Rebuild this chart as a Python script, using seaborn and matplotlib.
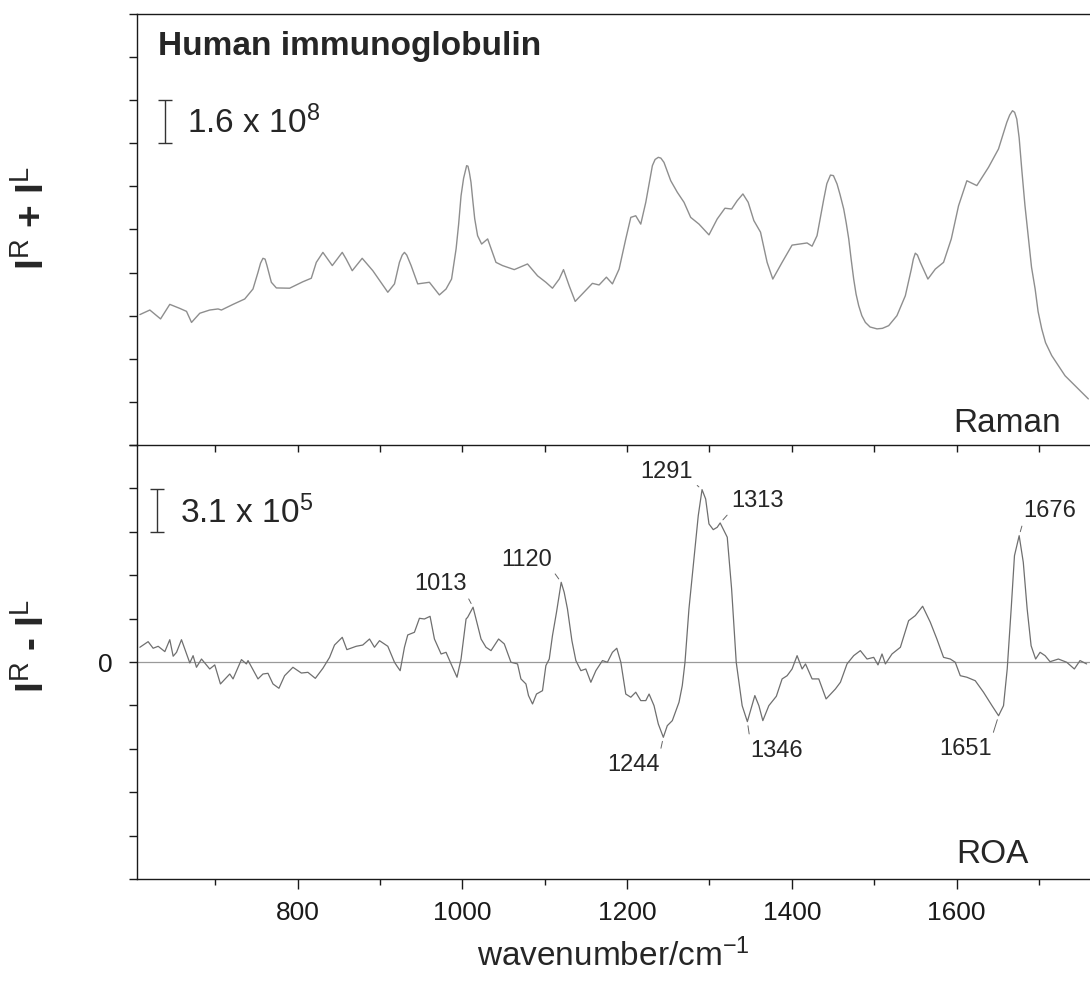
import numpy as np
import pandas as pd
import matplotlib
matplotlib.use("Agg")
import matplotlib.pyplot as plt
from matplotlib.ticker import MultipleLocator, FixedLocator, FuncFormatter
import seaborn as sns

# ---------------------------------------------------------------- data
# Raman spectrum, I^R + I^L  (intensity in units of 1e8)
raman_wn = [608.5, 620.6, 633.6, 644.8, 657.0, 665.1, 671.2, 681.2, 693.3, 703.4,
            707.5, 721.6, 735.8, 745.8, 751.9, 755.0, 757.9, 760.5, 762.8, 768.1,
            774.2, 790.3, 806.4, 816.6, 822.7, 830.7, 842.1, 854.2, 859.0, 866.3,
            878.4, 891.3, 909.5, 917.6, 923.6, 927.0, 929.7, 932.5, 937.8, 945.8,
            960.0, 972.1, 980.2, 986.9, 992.4, 995.5, 998.4, 1001.5, 1005.2, 1006.8,
            1008.5, 1010.5, 1012.5, 1015.0, 1018.5, 1023.4, 1030.7, 1040.8, 1048.8, 1063.0,
            1079.1, 1091.3, 1101.4, 1109.4, 1117.6, 1122.8, 1129.7, 1137.0, 1145.8, 1157.9,
            1166.0, 1174.9, 1182.2, 1190.3, 1198.4, 1204.5, 1210.5, 1216.6, 1222.7, 1230.7,
            1234.0, 1237.9, 1241.0, 1244.8, 1253.0, 1261.0, 1269.1, 1277.2, 1287.3, 1299.4,
            1309.4, 1318.8, 1326.9, 1333.7, 1340.6, 1347.0, 1353.9, 1362.0, 1370.0, 1376.9,
            1388.2, 1400.3, 1418.5, 1424.6, 1430.6, 1438.8, 1442.5, 1446.9, 1450.5, 1454.9,
            1458.5, 1463.0, 1466.0, 1469.1, 1472.0, 1475.1, 1478.0, 1481.2, 1485.0, 1489.3,
            1495.0, 1503.4, 1510.0, 1517.6, 1527.6, 1537.8, 1545.1, 1547.5, 1549.9, 1552.5,
            1556.0, 1565.2, 1574.2, 1584.2, 1593.6, 1602.4, 1612.5, 1624.6, 1638.8, 1650.9,
            1661.0, 1664.5, 1667.9, 1670.5, 1673.1, 1676.0, 1679.1, 1683.0, 1687.3, 1691.0,
            1695.4, 1699.0, 1703.4, 1708.0, 1715.5, 1731.7, 1747.9, 1760.0]
raman_int = [4.84, 5.01, 4.68, 5.22, 5.07, 4.96, 4.55, 4.89, 5.01, 5.05,
             5.01, 5.22, 5.42, 5.79, 6.41, 6.75, 6.93, 6.90, 6.66, 6.04,
             5.83, 5.82, 6.06, 6.19, 6.78, 7.15, 6.66, 7.15, 6.90, 6.47,
             6.93, 6.47, 5.67, 5.98, 6.78, 7.05, 7.15, 7.05, 6.66, 5.98,
             6.04, 5.57, 5.79, 6.16, 7.28, 8.20, 9.25, 9.90, 10.37, 10.35,
             10.12, 9.75, 9.13, 8.40, 7.77, 7.46, 7.65, 6.78, 6.66, 6.51,
             6.72, 6.28, 6.04, 5.82, 6.16, 6.51, 5.91, 5.33, 5.61, 6.00,
             5.94, 6.23, 5.98, 6.53, 7.65, 8.45, 8.51, 8.20, 9.01, 10.37,
             10.60, 10.68, 10.65, 10.49, 9.81, 9.38, 9.01, 8.45, 8.20, 7.80,
             8.39, 8.79, 8.76, 9.07, 9.32, 9.01, 8.33, 7.90, 6.78, 6.16,
             6.78, 7.42, 7.50, 7.38, 7.77, 9.13, 9.70, 10.02, 10.00, 9.69,
             9.30, 8.76, 8.25, 7.65, 6.90, 6.16, 5.60, 5.17, 4.80, 4.55,
             4.38, 4.31, 4.33, 4.43, 4.80, 5.54, 6.53, 6.90, 7.12, 7.05,
             6.78, 6.16, 6.53, 6.78, 7.65, 8.88, 9.81, 9.63, 10.31, 10.99,
             11.98, 12.25, 12.41, 12.35, 12.10, 11.40, 10.25, 8.90, 7.65, 6.60,
             5.79, 4.95, 4.31, 3.80, 3.32, 2.57, 2.08, 1.71]

# ROA spectrum, I^R - I^L  (intensity in units of 1e5)
roa_wn = [608.5, 618.5, 624.6, 630.7, 638.8, 644.8, 648.9, 653.0, 659.0, 663.0,
          669.1, 673.1, 677.2, 683.3, 693.3, 699.4, 706.3, 717.6, 721.6, 731.8,
          737.8, 739.8, 751.9, 757.9, 764.0, 770.1, 777.3, 784.2, 794.3, 804.5,
          812.5, 821.5, 830.7, 838.8, 844.8, 854.2, 859.8, 871.1, 879.1, 887.3,
          893.3, 899.4, 909.5, 917.6, 920.8, 924.5, 929.7, 933.7, 941.8, 947.9,
          953.9, 960.8, 966.1, 974.2, 980.2, 986.3, 993.5, 998.4, 1004.5, 1006.4,
          1013.0, 1016.6, 1022.7, 1028.7, 1034.8, 1044.0, 1050.9, 1059.0, 1067.0, 1071.1,
          1077.2, 1080.3, 1085.2, 1090.0, 1097.3, 1101.4, 1105.5, 1109.4, 1114.3, 1120.0,
          1123.6, 1127.6, 1133.0, 1137.8, 1143.9, 1149.9, 1156.0, 1162.1, 1170.1, 1176.1,
          1182.2, 1187.5, 1192.4, 1198.4, 1204.5, 1210.5, 1216.6, 1222.7, 1226.7, 1232.7,
          1237.9, 1244.0, 1248.8, 1254.9, 1263.0, 1267.0, 1270.3, 1275.1, 1281.2, 1286.4,
          1291.0, 1295.4, 1299.4, 1304.6, 1309.4, 1313.0, 1321.6, 1326.9, 1332.5, 1339.7,
          1346.0, 1355.1, 1360.0, 1364.8, 1372.1, 1381.2, 1388.2, 1394.3, 1400.3, 1406.4,
          1412.5, 1416.6, 1424.6, 1432.7, 1441.6, 1452.9, 1459.0, 1467.0, 1475.1, 1483.2,
          1491.3, 1499.4, 1504.6, 1509.5, 1513.6, 1521.6, 1531.8, 1541.8, 1549.9, 1558.8,
          1568.1, 1576.1, 1584.2, 1592.4, 1598.4, 1604.5, 1612.5, 1622.7, 1632.7, 1643.0,
          1651.0, 1657.0, 1661.5, 1666.3, 1670.3, 1676.0, 1681.0, 1685.7, 1690.5, 1696.0,
          1701.4, 1707.5, 1713.5, 1723.6, 1733.7, 1743.0, 1749.9, 1757.9]
roa_int = [1.05, 1.45, 0.98, 1.12, 0.74, 1.59, 0.41, 0.69, 1.59, 0.93,
           -0.07, 0.45, -0.38, 0.21, -0.50, -0.21, -1.57, -0.86, -1.21, 0.17,
           -0.14, 0.10, -1.21, -0.86, -0.81, -1.57, -1.88, -0.98, -0.38, -0.79,
           -0.74, -1.17, -0.45, 0.33, 1.21, 1.76, 0.88, 1.12, 1.21, 1.64,
           1.05, 1.52, 1.12, -0.02, -0.31, -0.62, 1.05, 1.93, 2.12, 3.12,
           3.07, 3.26, 1.64, 0.57, 0.69, -0.14, -1.09, 0.21, 3.07, 3.19,
           3.91, 3.07, 1.64, 1.05, 0.81, 1.64, 1.29, -0.02, -0.14, -1.21,
           -1.57, -2.40, -3.00, -2.29, -2.05, -0.26, 0.21, 1.88, 3.55, 5.69,
           4.98, 3.79, 1.52, 0.10, -0.62, -0.50, -1.45, -0.62, 0.10, -0.02,
           0.69, 0.98, -0.02, -2.29, -2.52, -2.16, -2.76, -2.76, -2.29, -3.12,
           -4.43, -5.38, -4.55, -4.19, -2.88, -1.69, -0.02, 3.79, 7.36, 10.45,
           12.31, 11.64, 9.86, 9.45, 9.62, 9.93, 8.91, 5.21, -0.02, -3.12,
           -4.26, -2.40, -3.12, -4.19, -3.12, -2.45, -1.21, -0.98, -0.50, 0.45,
           -0.50, -0.14, -1.21, -1.21, -2.64, -1.93, -1.45, -0.14, 0.45, 0.81,
           0.21, 0.33, -0.21, 0.57, -0.14, 0.57, 1.05, 2.95, 3.31, 3.98,
           2.84, 1.64, 0.33, 0.21, -0.02, -0.98, -1.09, -1.34, -2.16, -3.12,
           -3.84, -3.12, -0.50, 3.79, 7.59, 9.02, 7.12, 3.79, 1.16, 0.21,
           0.69, 0.45, 0.02, 0.21, -0.02, -0.50, 0.10, -0.14]

# labelled ROA bands
peak_wn = [1013, 1120, 1244, 1291, 1313, 1346, 1651, 1676]

# intensity scale bars
raman_scale, raman_exp = 1.6, 8   # 1.6 x 10^8
roa_scale, roa_exp = 3.1, 5       # 3.1 x 10^5

x_ticks = [800, 1000, 1200, 1400, 1600]

# ---------------------------------------------------------------- style
sns.set_style("ticks")
plt.rcParams.update({
    "font.family": ["Liberation Sans", "DejaVu Sans"],
    "mathtext.fontset": "custom",
    "mathtext.rm": "Liberation Sans",
    "mathtext.it": "Liberation Sans:italic",
    "mathtext.bf": "Liberation Sans:bold",
    "axes.edgecolor": "#1a1a1a",
    "axes.linewidth": 1.0,
    "xtick.color": "#1a1a1a",
    "ytick.color": "#1a1a1a",
})

raman_df = pd.DataFrame({"wavenumber": raman_wn, "intensity": raman_int})
roa_df = pd.DataFrame({"wavenumber": roa_wn, "intensity": roa_int})

fig = plt.figure(figsize=(10.9, 9.95), dpi=100)
left = 137 / 1090
ax2 = fig.add_axes([left, 0.1156, 1 - left, 0.4362])
ax1 = fig.add_axes([left, 0.5518, 1 - left, 0.4331])
ax1.patch.set_visible(False)
ax2.patch.set_visible(False)

xlim = (605, 1762)

# ---------------------------------------------------------------- Raman panel
sns.lineplot(data=raman_df, x="wavenumber", y="intensity", ax=ax1,
             color="#8e8e8e", linewidth=1.0, estimator=None, sort=False)
ax1.set_xlim(*xlim)
ax1.set_ylim(0, 10 * raman_scale)
ax1.yaxis.set_major_locator(FixedLocator(np.arange(0, 10.5) * raman_scale))
ax1.yaxis.set_major_formatter(FuncFormatter(lambda v, p: ""))
ax1.xaxis.set_major_locator(FixedLocator(x_ticks))
ax1.xaxis.set_minor_locator(MultipleLocator(100))
ax1.tick_params(axis="x", which="both", direction="out", length=5, width=1,
                labelbottom=False)
ax1.tick_params(axis="y", direction="out", length=5.5, width=1)
ax1.spines["right"].set_visible(False)
ax1.set_xlabel("")
ax1.set_ylabel("")

ax1.text(0.022, 0.907, "Human immunoglobulin", transform=ax1.transAxes,
         fontsize=24, fontweight="bold", ha="left", va="baseline")
ax1.errorbar(639.3, 11.2 + raman_scale / 2, yerr=raman_scale / 2, fmt="none",
             ecolor="#333333", elinewidth=1.0, capsize=5, capthick=1.0)
ax1.text(0.0525, 0.726, f"{raman_scale} x 10$^{{{raman_exp}}}$",
         transform=ax1.transAxes, fontsize=24, ha="left", va="baseline")
ax1.text(0.856, 0.033, "Raman", transform=ax1.transAxes, fontsize=24,
         ha="left", va="baseline")

# ---------------------------------------------------------------- ROA panel
ax2.axhline(0, color="#9a9a9a", linewidth=0.9, zorder=1)
sns.lineplot(data=roa_df, x="wavenumber", y="intensity", ax=ax2,
             color="#6f6f6f", linewidth=0.9, estimator=None, sort=False)
ax2.set_xlim(*xlim)
ax2.set_ylim(-5 * roa_scale, 5 * roa_scale)
ax2.yaxis.set_major_locator(FixedLocator(np.arange(-5, 5.5) * roa_scale))
ax2.yaxis.set_major_formatter(
    FuncFormatter(lambda v, p: "0" if abs(v) < 1e-9 else ""))
ax2.xaxis.set_major_locator(FixedLocator(x_ticks))
ax2.xaxis.set_minor_locator(MultipleLocator(100))
ax2.tick_params(axis="x", which="major", direction="out", length=7, width=1,
                labelsize=19, pad=8)
ax2.tick_params(axis="x", which="minor", direction="out", length=4, width=1)
ax2.tick_params(axis="y", direction="out", length=5.5, width=1,
                labelsize=19, pad=12)
ax2.spines["right"].set_visible(False)
ax2.spines["top"].set_visible(False)
ax2.set_ylabel("")
ax2.set_xlabel("wavenumber/cm$^{-1}$", fontsize=24, labelpad=10)

ax2.errorbar(628.8, 9.29 + roa_scale / 2, yerr=roa_scale / 2, fmt="none",
             ecolor="#333333", elinewidth=1.0, capsize=5, capthick=1.0)
ax2.text(0.045, 0.8226, f"{roa_scale} x 10$^{{{roa_exp}}}$",
         transform=ax2.transAxes, fontsize=24, ha="left", va="baseline")
ax2.text(0.860, 0.039, "ROA", transform=ax2.transAxes, fontsize=24,
         ha="left", va="baseline")

# band labels: offset of the text from the band (wavenumber, intensity)
# and the corner of the text box the leader line leaves from
label_layout = {
    1013: ((-40, 1.7), (1, 0)),
    1120: ((-42, 1.7), (1, 0)),
    1244: ((-36, -1.9), (1, 1)),
    1291: ((-43, 1.35), (1, 0)),
    1313: ((45, 1.65), (0, 0)),
    1346: ((35, -2.0), (0, 1)),
    1651: ((-40, -2.3), (1, 1)),
    1676: ((37, 1.8), (0, 0)),
}
for p in peak_wn:
    yp = float(np.interp(p, roa_wn, roa_int))
    (dx, dy), rp = label_layout[p]
    ax2.annotate(str(p), xy=(p, yp), xytext=(p + dx, yp + dy),
                 textcoords="data", ha="center", va="center", fontsize=17,
                 arrowprops=dict(arrowstyle="-", color="#666666", lw=0.7,
                                 shrinkA=1, shrinkB=3, relpos=rp))

# ---------------------------------------------------------------- axis titles
fig.text(33 / 1090, 1 - 218 / 995,
         r"$\mathbf{I}^{\mathrm{R}}$ + $\mathbf{I}^{\mathrm{L}}$",
         rotation=90, ha="center", va="center", fontsize=28, fontweight="bold")
fig.text(33 / 1090, 1 - 646 / 995,
         r"$\mathbf{I}^{\mathrm{R}}$ - $\mathbf{I}^{\mathrm{L}}$",
         rotation=90, ha="center", va="center", fontsize=28, fontweight="bold")

fig.savefig("out.png", dpi=100)
